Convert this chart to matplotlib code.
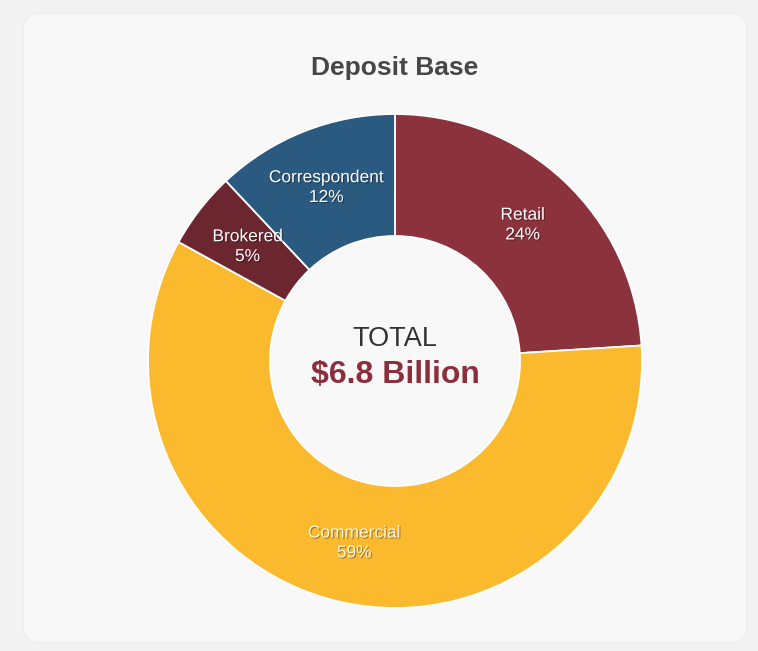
import matplotlib
matplotlib.use("Agg")
import matplotlib.pyplot as plt
import matplotlib.patheffects as pe
from matplotlib.patches import FancyBboxPatch
import numpy as np

# Deposit mix (share of total, %)
categories = ["Retail", "Commercial", "Brokered", "Correspondent"]
shares = [24, 59, 5, 12]
colors = ["#8b323d", "#fbba2e", "#6c2630", "#2b5a80"]
title = "Deposit Base"
total_label = "TOTAL"
total_value = "$6.8 Billion"

W, H = 758, 651
fig = plt.figure(figsize=(W / 100, H / 100), dpi=100)
fig.patch.set_facecolor("#f3f3f3")

ax = fig.add_axes([0, 0, 1, 1])
ax.set_xlim(0, W)
ax.set_ylim(0, H)
ax.set_aspect("equal")
ax.axis("off")

# card panel
card = FancyBboxPatch((23, 8), 724, 630, boxstyle="round,pad=0,rounding_size=18",
                      facecolor="#f8f8f8", edgecolor="#ededed", linewidth=1.0, zorder=0)
ax.add_patch(card)

cx, cy = 395, H - 361
R, r_in = 247, 125

wedges, _ = ax.pie(shares, colors=colors, startangle=90, counterclock=False,
                   center=(cx, cy), radius=R, frame=True,
                   wedgeprops=dict(width=R - r_in, edgecolor="white", linewidth=1.3))
ax.set_xlim(0, W)
ax.set_ylim(0, H)
ax.axis("off")

shadow = [pe.withSimplePatchShadow(offset=(0.8, -0.8), shadow_rgbFace="black", alpha=0.35)]
for w, name, s in zip(wedges, categories, shares):
    mid = np.deg2rad((w.theta1 + w.theta2) / 2)
    d = 0.755 * R
    tc = "#fbf3dc" if name == "Commercial" else "white"
    ax.text(cx + d * np.cos(mid), cy + d * np.sin(mid), f"{name}\n{s}%",
            ha="center", va="center", fontsize=12.5, color=tc,
            family="Liberation Sans", linespacing=1.4, path_effects=shadow, zorder=5)

ax.text(cx, H - 339, total_label, ha="center", va="center", fontsize=19.5,
        color="#333333", family="Liberation Sans", zorder=5)
ax.text(cx, H - 375, total_value, ha="center", va="center", fontsize=23,
        fontweight="bold", color="#8b2f3c", family="Liberation Sans", zorder=5)

ax.text(cx, H - 68, title, ha="center", va="center", fontsize=19,
        fontweight="bold", color="#474747", family="Liberation Sans", zorder=5)

fig.savefig("out.png", dpi=100, facecolor=fig.get_facecolor())
